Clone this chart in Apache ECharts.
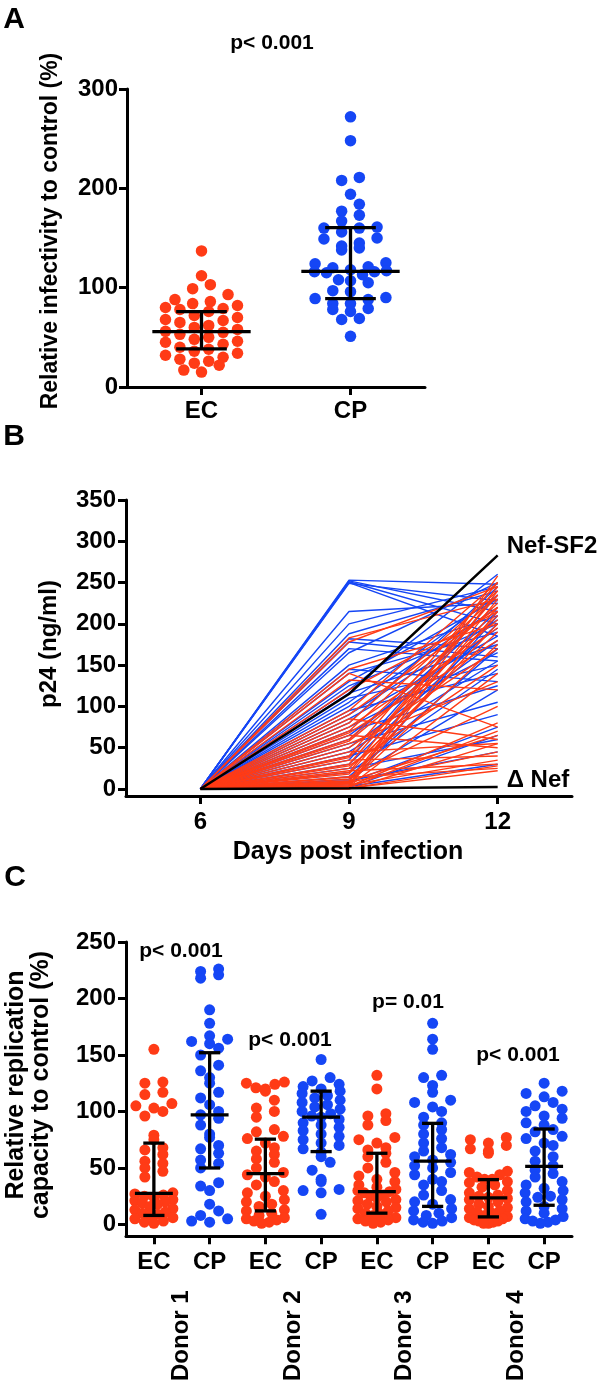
<!DOCTYPE html>
<html>
<head>
<meta charset="utf-8">
<script src="https://cdn.jsdelivr.net/npm/echarts@6/dist/echarts.min.js"></script>
<style>html,body{margin:0;padding:0;background:#fff}#c{width:600px;height:1384px}</style>
</head>
<body>
<div id="c"></div>
<script>
// ---------- Panel A data ----------
const groupsA = ['EC', 'CP'];
const infectivityEC = [137, 112, 103, 99, 93, 88, 86, 84, 82, 80, 79, 78, 76, 72, 70, 68, 67, 65, 62, 60, 58, 56, 55, 53, 50, 48, 46, 45, 43, 40, 38, 36, 34, 32, 30, 28, 26, 24, 22, 17, 15];
const infectivityCP = [272, 248, 211, 208, 194, 184, 177, 173, 167, 161, 160, 160, 156, 150, 149, 145, 142, 140, 138, 125, 124, 121, 120, 118, 117, 116, 116, 115, 113, 108, 107, 105, 97, 96, 90, 89, 88, 84, 84, 79, 78, 76, 69, 68, 51];
const medianA = [55.7, 116.5];
const lowA = [38.3, 89];
const highA = [75.8, 160.4];
const pLabelA = 'p< 0.001';

// ---------- Panel B data ----------
const days = [6, 9, 12];
const day6Value = 0;
const cpDay9 = [253, 252, 251, 250, 249, 215, 200, 188, 182, 178, 170, 165, 150, 145, 140, 130, 125, 120, 116, 110, 105, 100, 95, 90, 85, 80, 75, 70, 65, 60, 55, 50, 45, 40, 35, 30, 25, 20, 15, 12, 10, 8, 5, 3, 2];
const cpDay12 = [248, 215, 200, 185, 228, 225, 245, 240, 170, 160, 155, 250, 210, 130, 190, 230, 200, 260, 175, 150, 235, 220, 140, 205, 185, 245, 165, 125, 195, 215, 105, 180, 155, 90, 235, 200, 60, 145, 170, 120, 45, 75, 210, 30, 65];
const ecDay9 = [183, 178, 145, 140, 132, 120, 95, 90, 85, 80, 75, 70, 68, 65, 60, 58, 55, 50, 45, 40, 38, 35, 30, 28, 25, 22, 20, 18, 15, 14, 12, 10, 9, 8, 7, 6, 5, 4, 3, 3, 2, 2, 1, 1, 0];
const ecDay12 = [230, 245, 200, 75, 120, 215, 250, 220, 60, 240, 195, 235, 180, 50, 225, 205, 130, 170, 55, 250, 210, 40, 235, 150, 190, 30, 245, 220, 100, 25, 200, 65, 240, 45, 175, 230, 35, 215, 140, 80, 70, 258, 28, 22, 55];
const nefSF2 = [0, 115, 283];
const deltaNef = [0, 1, 2.5];
const ticksB = [0, 50, 100, 150, 200, 250, 300, 350];

// ---------- Panel C data ----------
const groupsC = ['EC', 'CP', 'EC', 'CP', 'EC', 'CP', 'EC', 'CP'];
const donors = ['Donor 1', 'Donor 2', 'Donor 3', 'Donor 4'];
const repEC1 = [155, 126, 125, 117, 115, 107, 105, 103, 100, 96, 79, 75, 68, 66, 62, 56, 54, 50, 47, 42, 28, 27, 26, 25, 24, 22, 21, 20, 19, 18, 16, 14, 13, 11, 10, 9, 8, 6, 5, 3, 2, 1];
const repCP1 = [226, 224, 221, 218, 190, 178, 167, 164, 162, 160, 156, 150, 141, 136, 130, 125, 117, 112, 106, 100, 97, 94, 88, 80, 77, 70, 67, 63, 57, 54, 50, 37, 34, 30, 18, 12, 8, 5, 3, 2];
const repEC2 = [126, 125, 124, 121, 120, 118, 110, 103, 100, 95, 84, 82, 78, 76, 72, 68, 65, 62, 58, 55, 50, 46, 44, 42, 38, 35, 30, 28, 25, 22, 20, 18, 16, 13, 12, 10, 8, 6, 5, 4, 3, 2, 1];
const repCP2 = [146, 130, 127, 124, 122, 120, 118, 116, 114, 112, 110, 108, 106, 104, 102, 100, 98, 96, 95, 93, 90, 88, 86, 83, 80, 78, 75, 72, 70, 67, 64, 60, 55, 48, 40, 38, 31, 30, 28, 9];
const repEC3 = [132, 120, 98, 96, 92, 88, 77, 75, 72, 68, 66, 63, 60, 55, 50, 46, 43, 40, 38, 35, 33, 31, 30, 29, 28, 26, 25, 24, 22, 21, 20, 18, 16, 15, 14, 12, 10, 9, 8, 6, 5, 4, 3, 2, 1];
const repCP3 = [178, 164, 155, 132, 130, 123, 117, 110, 108, 104, 100, 95, 90, 88, 84, 80, 76, 72, 68, 65, 62, 60, 57, 55, 52, 50, 46, 44, 40, 38, 35, 30, 26, 22, 20, 18, 14, 12, 10, 8, 6, 4, 3, 2, 1];
const repEC4 = [77, 75, 72, 70, 67, 65, 63, 47, 46, 44, 42, 40, 40, 38, 37, 35, 33, 30, 28, 26, 25, 24, 23, 22, 20, 18, 16, 15, 14, 12, 11, 10, 8, 7, 6, 5, 4, 3, 3, 2, 1, 1];
const repCP4 = [125, 118, 116, 113, 108, 105, 102, 100, 96, 94, 90, 88, 84, 82, 78, 76, 72, 70, 65, 60, 56, 52, 48, 45, 42, 38, 35, 32, 30, 28, 25, 24, 22, 20, 16, 14, 12, 10, 7, 5, 4, 3, 2, 1];
const medianC = [27.5, 97, 45, 95, 29, 56, 23.5, 51.5];
const lowC = [8, 50, 12, 64.5, 10, 16, 6.7, 17];
const highC = [72, 152, 75.5, 118, 63, 89.5, 39.7, 84.5];
const ticksC = [0, 50, 100, 150, 200, 250];
const pLabelsC = ['p< 0.001', 'p< 0.001', 'p= 0.01', 'p< 0.001'];

// ---------- style / layout ----------
const RED = '#ff3b16';
const BLUE = '#1546f5';
const FONT = "'Liberation Sans', Arial, Helvetica, sans-serif";
const gridA = { left: 127, top: 89, width: 298, height: 298 };
const gridB = { left: 126, top: 500, width: 446, height: 296 };
const gridC = { left: 126, top: 942, width: 446, height: 297 };
const rangeA = [0, 300], rangeB = [-8.5, 350], rangeC = [-10.5, 250];

// GraphPad-like row layout: points falling in the same value band sit side by side
function rowLayout(values, rowPx, spacingPx, maxSpanPx, pxPerUnit, bandPx) {
  const rows = {};
  values.forEach((v, i) => {
    const r = Math.floor(v * pxPerUnit / rowPx);
    (rows[r] = rows[r] || []).push(i);
  });
  const off = new Array(values.length).fill(0);
  Object.keys(rows).forEach(key => {
    const idx = rows[key].slice().sort((a, b) => values[a] - values[b]);
    const k = idx.length;
    const s = k > 1 ? Math.min(spacingPx, maxSpanPx / (k - 1)) : 0;
    const slots = [];
    for (let j = 0; j < k; j++) slots.push(j - (k - 1) / 2);
    slots.sort((a, b) => Math.abs(a) - Math.abs(b) || a - b);
    idx.forEach((id, j) => { off[id] = slots[j] * s / bandPx; });
  });
  return off;
}

function scatterData(values, center, layout) {
  return values.map((v, i) => [center + layout[i], v]);
}

function medianBars(medFrac, capFrac, lw) {
  return function (params, api) {
    const c = api.value(0);
    const m = api.coord([c, api.value(1)]);
    const lo = api.coord([c, api.value(2)]);
    const hi = api.coord([c, api.value(3)]);
    const band = api.size([1, 0])[0];
    const mw = band * medFrac, cw = band * capFrac;
    const st = { stroke: '#000', lineWidth: lw };
    return {
      type: 'group', children: [
        { type: 'line', shape: { x1: m[0] - mw, y1: m[1], x2: m[0] + mw, y2: m[1] }, style: st },
        { type: 'line', shape: { x1: lo[0] - cw, y1: lo[1], x2: lo[0] + cw, y2: lo[1] }, style: st },
        { type: 'line', shape: { x1: hi[0] - cw, y1: hi[1], x2: hi[0] + cw, y2: hi[1] }, style: st },
        { type: 'line', shape: { x1: lo[0], y1: lo[1], x2: hi[0], y2: hi[1] }, style: st }
      ]
    };
  };
}

const axisLineStyle = { show: true, onZero: false, lineStyle: { color: '#000', width: 3 } };
const tickStyle = { show: true, length: 8, lineStyle: { color: '#000', width: 3 } };
const labelStyle = { color: '#000', fontSize: 24, fontWeight: 'bold', fontFamily: FONT };

const series = [];

// Panel A scatter
const pxA = gridA.height / (rangeA[1] - rangeA[0]);
const bandA = gridA.width / groupsA.length;
const layEC = rowLayout(infectivityEC, 11.7, 17.7, 72, pxA, bandA);
const layCP = rowLayout(infectivityCP, 11.7, 17.7, 72, pxA, bandA);
series.push({ type: 'scatter', xAxisIndex: 1, yAxisIndex: 0, symbolSize: 11.5, itemStyle: { color: RED, opacity: 1 }, data: scatterData(infectivityEC, 0, layEC), z: 2 });
series.push({ type: 'scatter', xAxisIndex: 1, yAxisIndex: 0, symbolSize: 11.5, itemStyle: { color: BLUE, opacity: 1 }, data: scatterData(infectivityCP, 1, layCP), z: 2 });
series.push({
  type: 'custom', xAxisIndex: 0, yAxisIndex: 0, z: 5,
  renderItem: medianBars(0.33, 0.17, 3.3),
  encode: { x: 0, y: [1, 2, 3] },
  data: groupsA.map((g, i) => [i, medianA[i], lowA[i], highA[i]])
});

// Panel B lines (CP blue underneath, EC red on top)
cpDay9.forEach((v, i) => series.push({
  type: 'line', xAxisIndex: 2, yAxisIndex: 1, symbol: 'none', silent: true, z: 2,
  lineStyle: { color: BLUE, width: 1.4 },
  data: [[days[0], day6Value], [days[1], v], [days[2], cpDay12[i]]]
}));
ecDay9.forEach((v, i) => series.push({
  type: 'line', xAxisIndex: 2, yAxisIndex: 1, symbol: 'none', silent: true, z: 3,
  lineStyle: { color: RED, width: 1.4 },
  data: [[days[0], day6Value], [days[1], v], [days[2], ecDay12[i]]]
}));
const endLbl = (t, dy) => ({ show: true, formatter: t, distance: 9, offset: [0, dy], color: '#000', fontSize: 24, fontWeight: 'bold', fontFamily: FONT });
series.push({
  type: 'line', name: 'Nef-SF2', xAxisIndex: 2, yAxisIndex: 1, symbol: 'none', z: 4,
  lineStyle: { color: '#000', width: 2.5 }, endLabel: endLbl('Nef-SF2', -9),
  data: days.map((d, k) => [d, nefSF2[k]])
});
series.push({
  type: 'line', name: 'ΔNef', xAxisIndex: 2, yAxisIndex: 1, symbol: 'none', z: 4,
  lineStyle: { color: '#000', width: 2.5 }, endLabel: endLbl('Δ Nef', -7),
  data: days.map((d, k) => [d, deltaNef[k]])
});

// Panel C scatter
const repGroups = [repEC1, repCP1, repEC2, repCP2, repEC3, repCP3, repEC4, repCP4];
const pxC = gridC.height / (rangeC[1] - rangeC[0]);
const bandC = gridC.width / groupsC.length;
repGroups.forEach((vals, gi) => {
  const lay = rowLayout(vals, 9, 18, 38, pxC, bandC);
  series.push({
    type: 'scatter', xAxisIndex: 4, yAxisIndex: 2, symbolSize: 11, z: 2,
    itemStyle: { color: gi % 2 === 0 ? RED : BLUE, opacity: 1 },
    data: scatterData(vals, gi, lay)
  });
});
series.push({
  type: 'custom', xAxisIndex: 3, yAxisIndex: 2, z: 5,
  renderItem: medianBars(0.34, 0.19, 3.3),
  encode: { x: 0, y: [1, 2, 3] },
  data: groupsC.map((g, i) => [i, medianC[i], lowC[i], highC[i]])
});

function txt(text, x, y, size, extra) {
  return Object.assign({
    type: 'text', x: x, y: y, silent: true,
    style: { text: text, x: 0, y: 0, fill: '#000', fontSize: size, fontWeight: 'bold', fontFamily: FONT, align: 'center', verticalAlign: 'middle' }
  }, extra || {});
}
const pPosC = [[181, 951], [290, 1040], [408, 1002], [518, 1055]];

const option = {
  animation: false,
  backgroundColor: '#fff',
  grid: [gridA, gridB, gridC],
  xAxis: [
    { type: 'category', gridIndex: 0, position: 'bottom', data: groupsA, boundaryGap: true,
      axisLine: axisLineStyle, axisTick: Object.assign({ alignWithLabel: true }, tickStyle),
      axisLabel: Object.assign({ margin: 12 }, labelStyle), splitLine: { show: false } },
    { type: 'value', gridIndex: 0, position: 'bottom', min: -0.5, max: 1.5, show: false, splitLine: { show: false } },
    { type: 'value', gridIndex: 1, position: 'bottom', min: 4.5, max: 13.5,
      axisLine: axisLineStyle, axisTick: Object.assign({ customValues: days }, tickStyle),
      axisLabel: Object.assign({ margin: 14, customValues: days }, labelStyle), splitLine: { show: false } },
    { type: 'category', gridIndex: 2, position: 'bottom', data: groupsC, boundaryGap: true,
      axisLine: axisLineStyle, axisTick: Object.assign({ alignWithLabel: true }, tickStyle),
      axisLabel: Object.assign({ margin: 14, interval: 0 }, labelStyle), splitLine: { show: false } },
    { type: 'value', gridIndex: 2, position: 'bottom', min: -0.5, max: 7.5, show: false, splitLine: { show: false } },
    { type: 'category', gridIndex: 2, position: 'bottom', data: donors, boundaryGap: true,
      axisLine: { show: false, onZero: false }, axisTick: { show: false },
      axisLabel: Object.assign({ margin: 54, rotate: 90, interval: 0 }, labelStyle), splitLine: { show: false } }
  ],
  yAxis: [
    { type: 'value', gridIndex: 0, min: rangeA[0], max: rangeA[1], interval: 100,
      axisLine: axisLineStyle, axisTick: tickStyle,
      axisLabel: Object.assign({ margin: 9 }, labelStyle), splitLine: { show: false } },
    { type: 'value', gridIndex: 1, min: rangeB[0], max: rangeB[1],
      axisLine: axisLineStyle, axisTick: Object.assign({ customValues: ticksB }, tickStyle),
      axisLabel: Object.assign({ margin: 10, customValues: ticksB }, labelStyle), splitLine: { show: false } },
    { type: 'value', gridIndex: 2, min: rangeC[0], max: rangeC[1],
      axisLine: axisLineStyle, axisTick: Object.assign({ customValues: ticksC }, tickStyle),
      axisLabel: Object.assign({ margin: 10, customValues: ticksC }, labelStyle), splitLine: { show: false } }
  ],
  graphic: [
    txt('A', 14, 20, 30),
    txt('B', 14, 437, 30),
    txt('C', 15, 878, 30),
    txt(pLabelA, 272, 43, 21),
    txt(pLabelsC[0], pPosC[0][0], pPosC[0][1], 21),
    txt(pLabelsC[1], pPosC[1][0], pPosC[1][1], 21),
    txt(pLabelsC[2], pPosC[2][0], pPosC[2][1], 21),
    txt(pLabelsC[3], pPosC[3][0], pPosC[3][1], 21),
    txt('Relative infectivity to control (%)', 51, 231, 23, { rotation: Math.PI / 2 }),
    txt('p24 (ng/ml)', 49, 644, 24, { rotation: Math.PI / 2 }),
    txt('Days post infection', 348, 852, 25),
    txt('Relative replication\ncapacity to control (%)', 29, 1085, 25, { rotation: Math.PI / 2 })
  ],
  series: series
};

const chart = echarts.init(document.getElementById('c'), null, { renderer: 'canvas' });
chart.setOption(option);
</script>
</body>
</html>
